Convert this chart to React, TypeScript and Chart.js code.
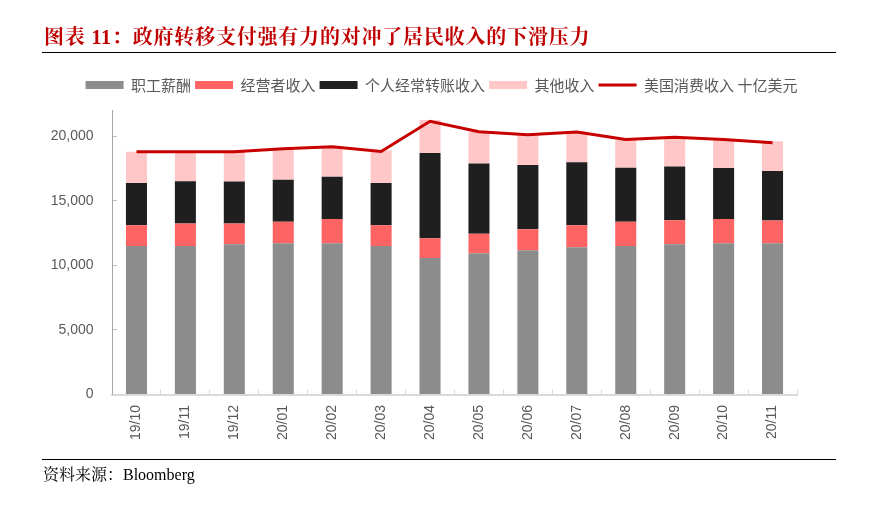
import React, { useEffect, useRef } from 'react';
import { Chart, registerables } from 'chart.js';

Chart.register(...registerables);

const categories = ['19/10', '19/11', '19/12', '20/01', '20/02', '20/03', '20/04', '20/05', '20/06', '20/07', '20/08', '20/09', '20/10', '20/11'];

const employeeComp = [11500, 11500, 11630, 11710, 11710, 11500, 10570, 10930, 11160, 11400, 11500, 11630, 11710, 11710];
const proprietorsIncome = [1600, 1730, 1600, 1650, 1880, 1600, 1520, 1500, 1630, 1700, 1860, 1860, 1880, 1750];
const transferReceipts = [3260, 3280, 3260, 3250, 3260, 3260, 6590, 5450, 4960, 4880, 4190, 4160, 3930, 3830];
const otherIncome = [2430, 2280, 2300, 2360, 2320, 2550, 2560, 2460, 2330, 2360, 2190, 2250, 2250, 2300];
const consumption = [18790, 18790, 18790, 19020, 19170, 18810, 21140, 20340, 20100, 20310, 19740, 19900, 19740, 19480];

const seriesNames = ['职工薪酬', '经营者收入', '个人经常转账收入', '其他收入', '美国消费收入 十亿美元'];
const yTickValues = [0, 5000, 10000, 15000, 20000];
const yMax = 22000;

const titleText = '图表 11：政府转移支付强有力的对冲了居民收入的下滑压力';
const sourceText = '资料来源：Bloomberg';

const W = 883;
const H = 506;

export default function App() {
  const ref = useRef<HTMLCanvasElement>(null);

  useEffect(() => {
    const canvas = ref.current;
    if (!canvas) return;
    const barCommon = {
      type: 'bar' as const,
      stack: 'income',
      order: 1,
      barPercentage: 0.43,
      categoryPercentage: 1,
      borderWidth: 0,
      pointStyle: 'rect',
    };
    const chart = new Chart(canvas, {
      type: 'bar',
      data: {
        labels: categories,
        datasets: [
          { ...barCommon, label: seriesNames[0], data: employeeComp, backgroundColor: '#8c8c8c' },
          { ...barCommon, label: seriesNames[1], data: proprietorsIncome, backgroundColor: '#ff6464' },
          { ...barCommon, label: seriesNames[2], data: transferReceipts, backgroundColor: '#1f1f1f' },
          { ...barCommon, label: seriesNames[3], data: otherIncome, backgroundColor: '#ffc7c7' },
          {
            type: 'line',
            label: seriesNames[4],
            data: consumption,
            stack: 'line',
            order: 0,
            borderColor: '#c80000',
            backgroundColor: '#c80000',
            borderWidth: 3,
            tension: 0,
            pointRadius: 0,
            pointHoverRadius: 0,
            pointStyle: 'line',
            pointBorderWidth: 3,
            pointBorderColor: '#c80000',
          } as any,
        ],
      },
      options: {
        responsive: false,
        animation: false,
        layout: { padding: { top: 73.5, left: 0, right: 0, bottom: 0 } },
        plugins: {
          tooltip: { enabled: false },
          legend: {
            display: true,
            position: 'top',
            labels: {
              usePointStyle: true,
              pointStyleWidth: 38,
              boxHeight: 8,
              padding: 4,
              color: '#595959',
              font: { family: '"Noto Sans CJK SC", "Noto Sans", sans-serif', size: 15 },
              sort: (a: any, b: any) => a.datasetIndex - b.datasetIndex,
            },
          },
        },
        scales: {
          x: {
            type: 'category',
            position: 'bottom',
            stacked: true,
            offset: true,
            grid: {
              display: true,
              drawOnChartArea: false,
              drawTicks: true,
              tickLength: -5,
              color: '#d9d9d9',
              offset: true,
            },
            border: { display: true, color: '#d9d9d9', width: 2 },
            ticks: {
              autoSkip: false,
              minRotation: 90,
              maxRotation: 90,
              padding: 15.5,
              color: '#595959',
              font: { family: '"Liberation Sans", Arial, sans-serif', size: 14 },
            },
            afterFit: (s: any) => {
              s.height = 111.5;
            },
          },
          x2: {
            type: 'category',
            position: 'top',
            display: true,
            grid: { display: false },
            border: { display: false },
            ticks: { display: false },
            afterFit: (s: any) => {
              s.height = 7.7;
            },
          },
          y: {
            type: 'linear',
            position: 'left',
            stacked: true,
            min: 0,
            max: yMax,
            afterBuildTicks: (s: any) => {
              s.ticks = yTickValues.map((v) => ({ value: v }));
            },
            grid: {
              display: true,
              drawOnChartArea: false,
              drawTicks: true,
              tickLength: -5,
              color: '#bfbfbf',
            },
            border: { display: true, color: '#a6a6a6', width: 1 },
            ticks: {
              padding: 23.5,
              color: '#595959',
              font: { family: '"Liberation Sans", Arial, sans-serif', size: 14 },
              callback: (v: any) => Number(v).toLocaleString('en-US'),
            },
            afterFit: (s: any) => {
              s.width = 112;
            },
          },
          y2: {
            type: 'linear',
            position: 'right',
            display: true,
            grid: { display: false },
            border: { display: false },
            ticks: { display: false },
            afterFit: (s: any) => {
              s.width = 86;
            },
          },
        },
      } as any,
    });
    return () => chart.destroy();
  }, []);

  return (
    <div
      style={{
        position: 'fixed',
        left: 0,
        top: 0,
        width: W,
        height: H,
        background: '#fff',
        overflow: 'hidden',
      }}
    >
      <canvas
        ref={ref}
        width={W}
        height={H}
        style={{ position: 'absolute', left: 0, top: 0, width: W, height: H }}
      />
      <div
        style={{
          position: 'absolute',
          left: 44,
          top: 25,
          height: 24,
          lineHeight: '24px',
          fontSize: 20,
          fontWeight: 700,
          letterSpacing: '0.8px',
          color: '#c00000',
          whiteSpace: 'nowrap',
          fontFamily: '"Liberation Serif", "Noto Serif CJK SC", "Noto Sans CJK SC", serif',
        }}
      >
        {titleText}
      </div>
      <div style={{ position: 'absolute', left: 42, top: 51.5, width: 794, height: 1.5, background: '#000' }} />
      <div style={{ position: 'absolute', left: 42, top: 458.5, width: 794, height: 1.5, background: '#000' }} />
      <div
        style={{
          position: 'absolute',
          left: 43,
          top: 466,
          height: 18,
          lineHeight: '18px',
          fontSize: 16,
          color: '#000',
          whiteSpace: 'nowrap',
          fontFamily: '"Liberation Serif", "Noto Serif CJK SC", "Noto Sans CJK SC", serif',
        }}
      >
        {sourceText}
      </div>
    </div>
  );
}
